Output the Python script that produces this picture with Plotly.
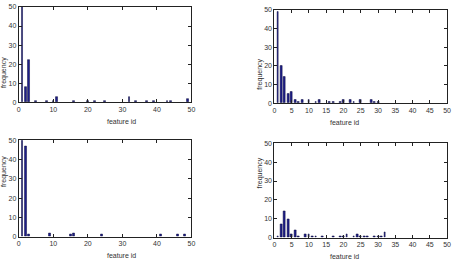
import plotly.graph_objects as go

# Panel data: feature id -> frequency
p1_ids = [1, 2, 3, 5, 8, 10, 11, 16, 20, 22, 25, 32, 34, 37, 39, 43, 44, 49]
p1_freq = [50, 8, 22, 1, 1, 1, 3, 1, 1, 1, 1, 3, 1, 1, 1, 1, 1, 2]

p2_ids = [1, 2, 3, 4, 5, 6, 7, 8, 10, 12, 13, 16, 17, 19, 20, 22, 23, 25, 28, 29, 30]
p2_freq = [49, 20, 14, 5, 6, 2, 1, 2, 2, 1, 2, 1, 1, 1, 2, 2, 1, 2, 2, 1, 1]

p3_ids = [1, 2, 3, 9, 15, 16, 24, 41, 46, 48]
p3_freq = [50, 47, 1, 2, 1, 2, 1, 1, 1, 1]

p4_ids = [1, 2, 3, 4, 5, 6, 7, 9, 10, 11, 12, 14, 17, 19, 20, 21, 23, 24, 25, 26, 27, 29, 30, 31, 32]
p4_freq = [1, 7, 14, 10, 2, 4, 1, 2, 2, 1, 1, 1, 1, 1, 1, 2, 1, 2, 1, 1, 1, 1, 1, 1, 3]

y_ticks = [0, 10, 20, 30, 40, 50]
x_ticks_left = [0, 10, 20, 30, 40, 50]
x_ticks_right = [0, 5, 10, 15, 20, 25, 30, 35, 40, 45, 50]

W, H = 459, 265
def px(x0, x1):
    return [x0 / W, x1 / W]
def py(top, bottom):
    return [1 - bottom / H, 1 - top / H]

panels = [
    (p1_ids, p1_freq, px(17, 192), py(3, 101), x_ticks_left),
    (p2_ids, p2_freq, px(276, 451), py(6, 102), x_ticks_right),
    (p3_ids, p3_freq, px(17, 192), py(140, 239), x_ticks_left),
    (p4_ids, p4_freq, px(276, 451), py(143, 240), x_ticks_right),
]

FONT = "Liberation Sans Narrow, Liberation Sans, Arial"
fig = go.Figure()
annotations = []
for i, (ids, freq, xd, yd, xt) in enumerate(panels, start=1):
    s = "" if i == 1 else str(i)
    fig.add_trace(go.Bar(x=ids, y=freq, width=0.55, xaxis="x" + s, yaxis="y" + s,
                         marker=dict(color="#1e1e8c", line=dict(color="#0a0a3a", width=0.5)),
                         showlegend=False))
    common = dict(showline=True, linecolor="#222", linewidth=1, mirror="ticks",
                  ticks="inside", ticklen=3, tickcolor="#222", showgrid=False, zeroline=False,
                  tickfont=dict(family=FONT, size=7, color="#333"))
    fig.update_layout(**{
        "xaxis" + s: dict(domain=xd, range=[0, 50], tickvals=xt, anchor="y" + s, **common),
        "yaxis" + s: dict(domain=yd, range=[0, 50], tickvals=y_ticks, anchor="x" + s, **common),
    })
    annotations.append(dict(text="feature id", xref="paper", yref="paper",
                            x=(xd[0] + xd[1]) / 2, y=yd[0] - 14 / H, yanchor="top", showarrow=False,
                            font=dict(family=FONT, size=7, color="#333")))
    annotations.append(dict(text="frequency", xref="paper", yref="paper",
                            x=xd[0] - 15 / W, y=(yd[0] + yd[1]) / 2, xanchor="center", textangle=-90,
                            showarrow=False, font=dict(family=FONT, size=7, color="#333")))

fig.update_layout(width=W, height=H, margin=dict(l=0, r=0, t=0, b=0),
                  paper_bgcolor="white", plot_bgcolor="white", bargap=0,
                  annotations=annotations)
fig.write_html("out.html")
